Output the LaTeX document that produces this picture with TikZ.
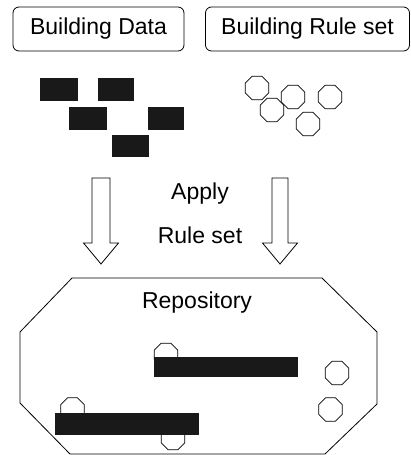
\documentclass[tikz,border=0pt]{standalone}
\usepackage{fontspec}
\setmainfont{Liberation Sans}
\usetikzlibrary{shapes.geometric}

\tikzset{
  headbox/.style={draw, line width=0.8pt, rounded corners=6pt, minimum height=44pt, inner sep=0pt, font=\fontsize{23}{26}\selectfont},
  plaintext/.style={font=\fontsize{23}{26}\selectfont, inner sep=0pt},
  datablock/.style={fill=black!90},
  ruleoct/.style={draw, line width=0.8pt, fill=white, regular polygon, regular polygon sides=8, minimum size=25.5pt, inner sep=0pt},
}

\begin{document}
\begin{tikzpicture}[x=1pt, y=-1pt]
  \useasboundingbox (0,0) rectangle (411,455);

  % ============================================
  % Inputs: data and rule set
  % ============================================
  \node[headbox, minimum width=171pt] (data) at (98.5,29) {Building Data};
  \node[headbox, minimum width=204pt] (rules) at (307.5,29) {Building Rule set};

  % Building data blocks
  \foreach \x/\y/\w/\h in {40/78/38/23, 98/78/36/23, 69/107/38/23, 148/107/36/23, 112/135/37/22} {
    \fill[datablock] (\x,\y) rectangle ++(\w,\h);
  }

  % Rules (octagons)
  \foreach \n/\x/\y in {1/257/88, 2/272/110, 3/293/97, 4/330/97, 5/308/124} {
    \node[ruleoct] (rule\n) at (\x,\y) {};
  }

  % ============================================
  % Apply rule set (hollow arrows)
  % ============================================
  \foreach \cx/\sw in {101/9, 280/8} {
    \draw[line width=0.8pt, line join=miter]
      (\cx-\sw,178) -- (\cx+\sw,178) -- (\cx+\sw,243) -- (\cx+17.5,243)
      -- (\cx,264) -- (\cx-17.5,243) -- (\cx-\sw,243) -- cycle;
  }
  \node[plaintext] (apply) at (200,194) {Apply};
  \node[plaintext] (ruleset) at (200,235) {Rule set};

  % ============================================
  % Repository
  % ============================================
  \draw[line width=0.8pt]
    (72,278) -- (322,278) -- (377,332) -- (377,404) -- (325,454)
    -- (70,454) -- (20,403) -- (20,332) -- cycle;
  \node[plaintext] (repo) at (197,303) {Repository};

  % Rules behind the bars
  \node[ruleoct] (stored1) at (166,355) {};
  \node[ruleoct] (stored2) at (72.5,409.5) {};
  \node[ruleoct] (stored3) at (173,438) {};

  % Combined data bars
  \fill[datablock] (154,357) rectangle (298,377);
  \fill[datablock] (55,413) rectangle (199,435);

  % Free rules
  \node[ruleoct] (free1) at (337,373) {};
  \node[ruleoct] (free2) at (330.5,409.5) {};

\end{tikzpicture}
\end{document}
